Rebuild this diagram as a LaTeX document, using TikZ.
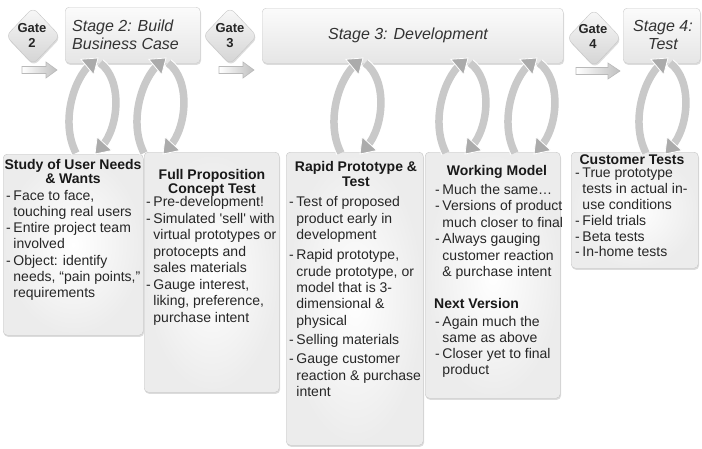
\documentclass[tikz,border=0pt]{standalone}
\usepackage{fontspec}
\setmainfont{Liberation Sans}
\usetikzlibrary{shapes.geometric,shadows,calc}
\newcommand{\dd}{-\hspace{2.6pt}}
\newcommand{\dsh}{\phantom{\dd}}
\begin{document}
\begin{tikzpicture}[x=1pt,y=-1pt,
  shad/.style={drop shadow={shadow xshift=0.8pt,shadow yshift=-1.6pt,opacity=0.28}},
  stagebox/.style={draw=gray!40, rounded corners=4pt, top color=gray!3, bottom color=gray!20, inner sep=0pt, anchor=north west, shad},
  infobox/.style={draw=gray!45, rounded corners=4pt, inner color=white, outer color=gray!15, inner sep=0pt, anchor=north west, shad},
  gatebox/.style={shape=diamond, draw=gray!45, rounded corners=6pt, top color=gray!5, bottom color=gray!34, minimum width=54pt, minimum height=57pt, inner sep=0pt, shad},
  gatetxt/.style={font=\bfseries\fontsize{13}{15}\selectfont, align=center, inner sep=0pt, anchor=north, text=black!85},
  stagetxt/.style={font=\itshape\fontsize{16}{18}\selectfont, inner sep=0pt, text=black!80},
  ttl/.style={font=\bfseries\fontsize{14}{14.5}\selectfont, align=center, inner sep=0pt, anchor=north, text=black!90},
  body/.style={font=\fontsize{14}{16.3}\selectfont, align=left, inner sep=0pt, anchor=north west, text=black!85},
  gatearrow/.style={draw=gray!55, line width=0.6pt, left color=white, right color=gray!50},
  loopshaft/.style={draw=gray!42, line width=7.5pt, shorten >=9pt, preaction={draw=white, line width=9.5pt, shorten >=9pt}},
  loophead/.style={fill=gray!66, draw=white, line width=0.8pt, line join=miter},
]
\useasboundingbox (0,0) rectangle (702,448);

% stage boxes
\node[stagebox, minimum width=135pt, minimum height=56pt] (s2) at (65,7) {};
\node[stagebox, minimum width=301pt, minimum height=55pt] (s3) at (262,8) {};
\node[stagebox, minimum width=77pt, minimum height=55pt] (s4) at (623,8) {};
\node[stagetxt, align=left, anchor=north west] (s2t) at (72,20) {Stage 2: Build\\Business Case};
\node[stagetxt, anchor=base] (s3t) at (408,39.5) {Stage 3: Development};
\node[stagetxt, align=center, anchor=north] (s4t) at (663,20.6) {Stage 4:\\Test};

% gates
\node[gatebox] (g2) at (33,36) {};
\node[gatebox] (g3) at (230,36) {};
\node[gatebox] (g4) at (594,38) {};
\node[gatetxt] (g2t) at (32,23.5) {Gate\\2};
\node[gatetxt] (g3t) at (230,23.5) {Gate\\3};
\node[gatetxt] (g4t) at (593,24) {Gate\\4};

% gate arrows
\coordinate (a2) at (22,70);
\coordinate (a3) at (219,70);
\coordinate (a4) at (576,71);
\draw[gatearrow] (a2) ++(0,-3.5) -- ++(24,0) -- ++(0,-4.5) -- ++(11,8) -- ++(-11,8) -- ++(0,-4.5) -- ++(-24,0) -- cycle;
\draw[gatearrow] (a3) ++(0,-3.5) -- ++(24,0) -- ++(0,-4.5) -- ++(11,8) -- ++(-11,8) -- ++(0,-4.5) -- ++(-24,0) -- cycle;
\draw[gatearrow] (a4) ++(0,-3.5) -- ++(32,0) -- ++(0,-4.5) -- ++(12,8) -- ++(-12,8) -- ++(0,-4.5) -- ++(-32,0) -- cycle;

% info boxes
\node[infobox, minimum width=140pt, minimum height=181pt] (b1) at (3,154) {};
\node[infobox, minimum width=135pt, minimum height=240pt] (b2) at (144,152) {};
\node[infobox, minimum width=137pt, minimum height=293pt] (b3) at (286,152) {};
\node[infobox, minimum width=135pt, minimum height=246pt] (b4) at (425,152) {};
\node[infobox, minimum width=127pt, minimum height=116pt] (b5) at (571,152) {};

% box 1
\node[ttl] (t1) at (73,158.7) {Study of User Needs\\\& Wants};
\node[body] (x1) at (6,189.7) {\dd Face to face,\\
\dsh touching real users\\
\dd Entire project team\\
\dsh involved\\
\dd Object: identify\\
\dsh needs, “pain points,”\\
\dsh requirements};

% box 2
\node[ttl] (t2) at (212,169) {Full Proposition\\Concept Test};
\node[body, font=\fontsize{14}{16.5}\selectfont] (x2) at (146,196.4) {\dd Pre-development!\\
\dd Simulated \textquotesingle sell\textquotesingle{} with\\
\dsh virtual prototypes or\\
\dsh protocepts and\\
\dsh sales materials\\
\dd Gauge interest,\\
\dsh liking, preference,\\
\dsh purchase intent};

% box 3
\node[ttl] (t3) at (356,161.4) {Rapid Prototype \&\\Test};
\node[body] (x3) at (289,196.4) {\dd Test of proposed\\
\dsh product early in\\
\dsh development\\[4.3pt]
\dd Rapid prototype,\\
\dsh crude prototype, or\\
\dsh model that is 3-\\
\dsh dimensional \&\\
\dsh physical\\[3pt]
\dd Selling materials\\[3pt]
\dd Gauge customer\\
\dsh reaction \& purchase\\
\dsh intent};

% box 4
\node[ttl] (t4) at (497,164.7) {Working Model};
\node[body, font=\fontsize{14}{16.5}\selectfont] (x4) at (435,184) {\dd Much the same…\\
\dd Versions of product\\
\dsh much closer to final\\
\dd Always gauging\\
\dsh customer reaction\\
\dsh \& purchase intent};
\node[ttl, anchor=north west] (t4b) at (434,297.7) {Next Version};
\node[body, font=\fontsize{14}{16.2}\selectfont] (x4b) at (435,315.7) {\dd Again much the\\
\dsh same as above\\
\dd Closer yet to final\\
\dsh product};

% box 5
\node[ttl] (t5) at (632,154.5) {Customer Tests};
\node[body, font=\fontsize{14}{15.8}\selectfont] (x5) at (575,168) {\dd True prototype\\
\dsh tests in actual in-\\
\dsh use conditions\\
\dd Field trials\\
\dd Beta tests\\
\dd In-home tests};

% cycle arrows
\foreach \xc/\nm in {94/l1,162/l2,359/l3,464/l4,533/l5,664/l6}{
  \coordinate (\nm) at (\xc,107);
  % up-going left arc
  \coordinate (\nm p0) at ([shift={(-18,46)}]\nm);
  \coordinate (\nm p1) at ([shift={(-34,15)}]\nm);
  \coordinate (\nm p2) at ([shift={(-20,-29)}]\nm);
  \coordinate (\nm p3) at ([shift={(4,-49)}]\nm);
  \draw[loopshaft] (\nm p0) .. controls (\nm p1) and (\nm p2) .. (\nm p3);
  \coordinate (\nm pb) at ($(\nm p3)!14pt!(\nm p2)$);
  \filldraw[loophead] (\nm p3) -- ($(\nm pb)!10pt!90:(\nm p3)$) -- ($(\nm pb)!10pt!-90:(\nm p3)$) -- cycle;
  % down-going right arc
  \coordinate (\nm q0) at ([shift={(6,-44)}]\nm);
  \coordinate (\nm q1) at ([shift={(29,-27)}]\nm);
  \coordinate (\nm q2) at ([shift={(25,21)}]\nm);
  \coordinate (\nm q3) at ([shift={(1,47)}]\nm);
  \draw[loopshaft] (\nm q0) .. controls (\nm q1) and (\nm q2) .. (\nm q3);
  \coordinate (\nm qb) at ($(\nm q3)!14pt!(\nm q2)$);
  \filldraw[loophead] (\nm q3) -- ($(\nm qb)!10pt!90:(\nm q3)$) -- ($(\nm qb)!10pt!-90:(\nm q3)$) -- cycle;
}
\end{tikzpicture}
\end{document}
